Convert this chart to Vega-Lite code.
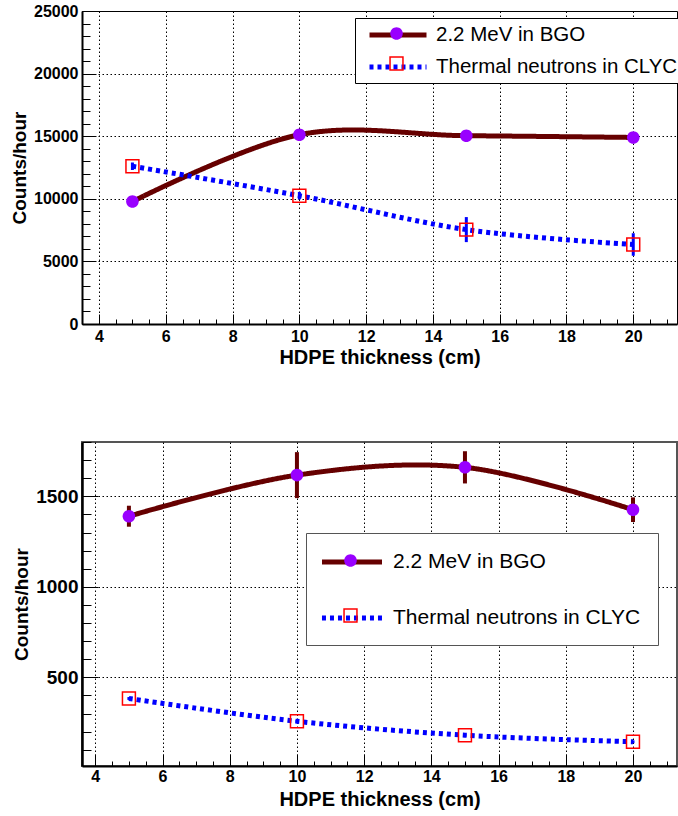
{
  "$schema": "https://vega.github.io/schema/vega-lite/v6.json",
  "padding": {"left": 10, "top": 2, "right": 0, "bottom": 0},
  "background": "white",
  "config": {
    "font": "Liberation Sans",
    "view": {"stroke": null},
    "axis": {
      "labelFont": "Liberation Sans", "labelFontWeight": "bold", "labelFontSize": 16, "labelColor": "black",
      "titleFont": "Liberation Sans", "titleFontWeight": "bold", "titleFontSize": 19, "titleColor": "black",
      "domainColor": "black", "tickColor": "black", "gridColor": "black", "gridDash": [1.5, 2.5], "gridWidth": 1
    },
    "legend": {"labelFont": "Liberation Sans", "labelFontSize": 20, "labelColor": "black", "title": null}
  },
  "datasets": {
    "top": [
      {"thickness": 5, "series": "2.2 MeV in BGO", "counts": 9780, "err": 250},
      {"thickness": 10, "series": "2.2 MeV in BGO", "counts": 15120, "err": 250},
      {"thickness": 15, "series": "2.2 MeV in BGO", "counts": 15040, "err": 250},
      {"thickness": 20, "series": "2.2 MeV in BGO", "counts": 14900, "err": 250},
      {"thickness": 5, "series": "Thermal neutrons in CLYC", "counts": 12600, "err": 300},
      {"thickness": 10, "series": "Thermal neutrons in CLYC", "counts": 10250, "err": 300},
      {"thickness": 15, "series": "Thermal neutrons in CLYC", "counts": 7540, "err": 1000},
      {"thickness": 20, "series": "Thermal neutrons in CLYC", "counts": 6350, "err": 900}
    ],
    "bottom": [
      {"thickness": 5, "series": "2.2 MeV in BGO", "counts": 1390, "err": 58},
      {"thickness": 10, "series": "2.2 MeV in BGO", "counts": 1617, "err": 127},
      {"thickness": 15, "series": "2.2 MeV in BGO", "counts": 1660, "err": 89},
      {"thickness": 20, "series": "2.2 MeV in BGO", "counts": 1426, "err": 68},
      {"thickness": 5, "series": "Thermal neutrons in CLYC", "counts": 383, "err": 8},
      {"thickness": 10, "series": "Thermal neutrons in CLYC", "counts": 257, "err": 8},
      {"thickness": 15, "series": "Thermal neutrons in CLYC", "counts": 180, "err": 8},
      {"thickness": 20, "series": "Thermal neutrons in CLYC", "counts": 144, "err": 8}
    ]
  },
  "spacing": 64,
  "resolve": {
    "scale": {"stroke": "independent", "strokeDash": "independent", "shape": "independent", "fill": "independent", "color": "independent"},
    "legend": {"stroke": "independent", "strokeDash": "independent", "shape": "independent", "fill": "independent", "color": "independent"}
  },
  "vconcat": [
    {
      "width": 595, "height": 313,
      "data": {"name": "top"},
      "view": {"stroke": "black", "strokeWidth": 1},
      "encoding": {
        "x": {"field": "thickness", "type": "quantitative", "title": "HDPE thickness (cm)",
          "scale": {"domain": [3.49, 21.31], "nice": false, "zero": false},
          "axis": {"values": [4,4.5,5,5.5,6,6.5,7,7.5,8,8.5,9,9.5,10,10.5,11,11.5,12,12.5,13,13.5,14,14.5,15,15.5,16,16.5,17,17.5,18,18.5,19,19.5,20,20.5,21],
            "labelExpr": "datum.value % 2 === 0 ? '' + datum.value : ''",
            "tickSize": {"condition": {"test": "datum.value % 2 === 0", "value": -10}, "value": -5},
            "gridOpacity": {"condition": {"test": "datum.value % 2 === 0", "value": 1}, "value": 0},
            "grid": true, "domainWidth": 2, "labelPadding": 14, "titlePadding": -2, "titleFontSize": 20, "labelOverlap": false}
        },
        "y": {"field": "counts", "type": "quantitative", "title": "Counts/hour",
          "scale": {"domain": [0, 25000], "nice": false, "zero": false},
          "axis": {"values": [0,1000,2000,3000,4000,5000,6000,7000,8000,9000,10000,11000,12000,13000,14000,15000,16000,17000,18000,19000,20000,21000,22000,23000,24000,25000],
            "labelExpr": "datum.value % 5000 === 0 ? '' + datum.value : ''",
            "tickSize": {"condition": {"test": "datum.value % 5000 === 0", "value": -14}, "value": -8},
            "gridOpacity": {"condition": {"test": "datum.value % 5000 === 0", "value": 1}, "value": 0},
            "grid": true, "domainWidth": 2, "labelPadding": 18, "titlePadding": 4, "labelOverlap": false}
        }
      },
      "layer": [
        {
          "mark": {"type": "line", "interpolate": "cardinal", "strokeWidth": 5},
          "encoding": {
            "stroke": {"field": "series", "type": "nominal",
              "scale": {"domain": ["2.2 MeV in BGO", "Thermal neutrons in CLYC"], "range": ["#660000", "#0000ff"]},
              "legend": {"orient": "none", "legendX": 273, "legendY": 7, "padding": 5, "rowPadding": 9,
                "symbolType": "M-3,0H3", "symbolSize": 361, "symbolStrokeWidth": 5, "symbolOffset": 26, "labelOffset": 26,
                "labelFontSize": 20.5, "strokeColor": "black", "fillColor": "white", "labelLimit": 400}},
            "strokeDash": {"field": "series", "type": "nominal",
              "scale": {"domain": ["2.2 MeV in BGO", "Thermal neutrons in CLYC"], "range": [[1, 0], [4, 4]]},
              "legend": {"orient": "none", "legendX": 273, "legendY": 7, "padding": 5, "rowPadding": 9,
                "symbolType": "M-3,0H3", "symbolSize": 361, "symbolStrokeWidth": 5, "symbolOffset": 26, "labelOffset": 26,
                "labelFontSize": 20.5, "strokeColor": "black", "fillColor": "white", "labelLimit": 400}}
          }
        },
        {
          "transform": [{"filter": "datum.series === '2.2 MeV in BGO'"}],
          "mark": {"type": "errorbar", "rule": {"stroke": "#660000", "strokeWidth": 4}},
          "encoding": {"yError": {"field": "err"}}
        },
        {
          "transform": [{"filter": "datum.series === 'Thermal neutrons in CLYC'"}],
          "mark": {"type": "errorbar", "rule": {"stroke": "#0000ff", "strokeWidth": 3}},
          "encoding": {"yError": {"field": "err"}}
        },
        {
          "mark": {"type": "point", "filled": false, "size": 361, "strokeWidth": 1.5, "opacity": 1},
          "encoding": {
            "shape": {"field": "series", "type": "nominal",
              "scale": {"range": ["M-0.66,0A0.66,0.66 0 1,0 0.66,0A0.66,0.66 0 1,0 -0.66,0Z", "M-0.68,-0.68H0.68V0.68H-0.68Z"]},
              "legend": {"orient": "none", "legendX": 273, "legendY": 7, "padding": 5, "rowPadding": 9,
                "symbolSize": 361, "symbolStrokeWidth": 1.5, "symbolOffset": 26, "labelOffset": 26, "labelExpr": "''"}},
            "fill": {"field": "series", "type": "nominal",
              "scale": {"range": ["#9900ff", "transparent"]},
              "legend": {"orient": "none", "legendX": 273, "legendY": 7, "padding": 5, "rowPadding": 9,
                "symbolSize": 361, "symbolStrokeWidth": 1.5, "symbolOffset": 26, "labelOffset": 26, "labelExpr": "''"}},
            "color": {"field": "series", "type": "nominal",
              "scale": {"range": ["transparent", "#ff0000"]},
              "legend": {"orient": "none", "legendX": 273, "legendY": 7, "padding": 5, "rowPadding": 9,
                "symbolSize": 361, "symbolStrokeWidth": 1.5, "symbolOffset": 26, "labelOffset": 26, "labelExpr": "''"}}
          }
        }
      ]
    },
    {
      "width": 595, "height": 324,
      "data": {"name": "bottom"},
      "view": {"stroke": "#555555", "strokeWidth": 2},
      "encoding": {
        "x": {"field": "thickness", "type": "quantitative", "title": "HDPE thickness (cm)",
          "scale": {"domain": [3.604, 21.31], "nice": false, "zero": false},
          "axis": {"values": [4,4.5,5,5.5,6,6.5,7,7.5,8,8.5,9,9.5,10,10.5,11,11.5,12,12.5,13,13.5,14,14.5,15,15.5,16,16.5,17,17.5,18,18.5,19,19.5,20,20.5,21],
            "labelExpr": "datum.value % 2 === 0 ? '' + datum.value : ''",
            "tickSize": {"condition": {"test": "datum.value % 2 === 0", "value": -12}, "value": -5},
            "gridOpacity": {"condition": {"test": "datum.value % 2 === 0", "value": 1}, "value": 0},
            "grid": true, "domainWidth": 2, "labelPadding": 14, "titlePadding": -2, "titleFontSize": 20, "labelOverlap": false}
        },
        "y": {"field": "counts", "type": "quantitative", "title": "Counts/hour",
          "scale": {"domain": [10, 1800], "nice": false, "zero": false},
          "axis": {"values": [100,200,300,400,500,600,700,800,900,1000,1100,1200,1300,1400,1500,1600,1700,1800],
            "labelExpr": "datum.value % 500 === 0 ? '' + datum.value : ''",
            "tickSize": {"condition": {"test": "datum.value % 500 === 0", "value": -16}, "value": -9},
            "gridOpacity": {"condition": {"test": "datum.value % 500 === 0", "value": 1}, "value": 0},
            "grid": true, "domainWidth": 2.5, "labelPadding": 20, "labelFontSize": 19, "titlePadding": 4, "labelOverlap": false}
        }
      },
      "layer": [
        {
          "mark": {"type": "line", "interpolate": "cardinal", "strokeWidth": 5},
          "encoding": {
            "stroke": {"field": "series", "type": "nominal",
              "scale": {"domain": ["2.2 MeV in BGO", "Thermal neutrons in CLYC"], "range": ["#660000", "#0000ff"]},
              "legend": {"orient": "none", "legendX": 224, "legendY": 91, "padding": 17, "rowPadding": 34,
                "symbolType": "M-3.16,0H3.16", "symbolSize": 361, "symbolStrokeWidth": 5, "symbolOffset": 17, "labelOffset": 29,
                "labelFontSize": 21, "strokeColor": "#555555", "fillColor": "white", "labelLimit": 400}},
            "strokeDash": {"field": "series", "type": "nominal",
              "scale": {"domain": ["2.2 MeV in BGO", "Thermal neutrons in CLYC"], "range": [[1, 0], [4, 4]]},
              "legend": {"orient": "none", "legendX": 224, "legendY": 91, "padding": 17, "rowPadding": 34,
                "symbolType": "M-3.16,0H3.16", "symbolSize": 361, "symbolStrokeWidth": 5, "symbolOffset": 17, "labelOffset": 29,
                "labelFontSize": 21, "strokeColor": "#555555", "fillColor": "white", "labelLimit": 400}}
          }
        },
        {
          "transform": [{"filter": "datum.series === '2.2 MeV in BGO'"}],
          "mark": {"type": "errorbar", "rule": {"stroke": "#660000", "strokeWidth": 4}},
          "encoding": {"yError": {"field": "err"}}
        },
        {
          "transform": [{"filter": "datum.series === 'Thermal neutrons in CLYC'"}],
          "mark": {"type": "errorbar", "rule": {"stroke": "#0000ff", "strokeWidth": 3}},
          "encoding": {"yError": {"field": "err"}}
        },
        {
          "mark": {"type": "point", "filled": false, "size": 361, "strokeWidth": 1.5, "opacity": 1},
          "encoding": {
            "shape": {"field": "series", "type": "nominal",
              "scale": {"range": ["M-0.66,0A0.66,0.66 0 1,0 0.66,0A0.66,0.66 0 1,0 -0.66,0Z", "M-0.68,-0.68H0.68V0.68H-0.68Z"]},
              "legend": {"orient": "none", "legendX": 224, "legendY": 91, "padding": 17, "rowPadding": 34,
                "symbolSize": 361, "symbolStrokeWidth": 1.5, "symbolOffset": 17, "labelOffset": 29, "labelExpr": "''"}},
            "fill": {"field": "series", "type": "nominal",
              "scale": {"range": ["#9900ff", "transparent"]},
              "legend": {"orient": "none", "legendX": 224, "legendY": 91, "padding": 17, "rowPadding": 34,
                "symbolSize": 361, "symbolStrokeWidth": 1.5, "symbolOffset": 17, "labelOffset": 29, "labelExpr": "''"}},
            "color": {"field": "series", "type": "nominal",
              "scale": {"range": ["transparent", "#ff0000"]},
              "legend": {"orient": "none", "legendX": 224, "legendY": 91, "padding": 17, "rowPadding": 34,
                "symbolSize": 361, "symbolStrokeWidth": 1.5, "symbolOffset": 17, "labelOffset": 29, "labelExpr": "''"}}
          }
        }
      ]
    }
  ]
}
